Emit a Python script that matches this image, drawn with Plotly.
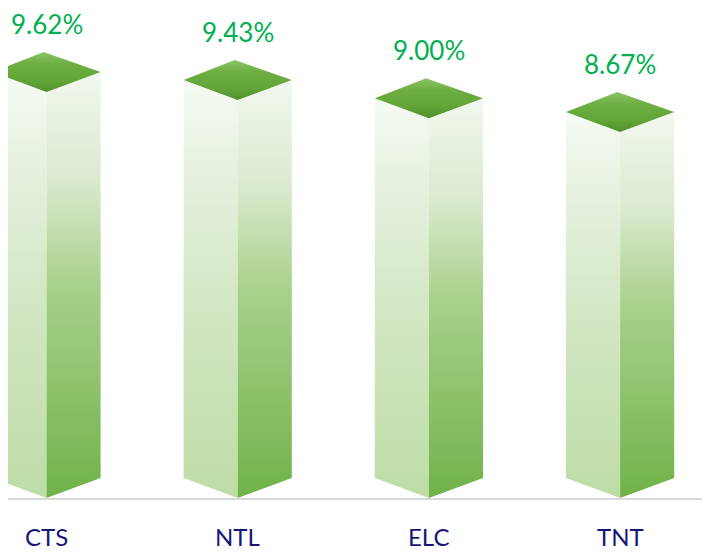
import plotly.graph_objects as go

# ---- data ----
categories = ["CTS", "NTL", "ELC", "TNT"]
values = [9.62, 9.43, 9.00, 8.67]
value_labels = [f"{v:.2f}%" for v in values]

# ---- style ----
HALF_W = 0.283      # half bar width (x units)
DEPTH = 0.474       # vertical offset of the top diamond (y units)
LABEL_GREEN = "#00b050"
CAT_BLUE = "#16167a"
FONT = "Lato, 'Open Sans', sans-serif"

left_scale = [[0, "#bddca6"], [0.5, "#d4e8c6"], [0.75, "#e4f0dc"], [1, "#f6faf3"]]
right_scale = [[0, "#70b249"], [0.5, "#a8d18b"], [0.75, "#dbeacf"], [1, "#f2f8ee"]]
top_scale = [[0, "#518f2d"], [0.3, "#63a538"], [0.7, "#6eae43"], [1, "#8cc468"]]

fig = go.Figure()

for i, (cat, v) in enumerate(zip(categories, values)):
    c = i
    # left (front-left) face
    fig.add_trace(go.Scatter(
        x=[c - HALF_W, c, c, c - HALF_W, c - HALF_W],
        y=[DEPTH, 0, v, v + DEPTH, DEPTH],
        fill="toself", mode="lines", line=dict(width=0),
        fillgradient=dict(type="vertical", colorscale=left_scale),
        hoverinfo="skip", showlegend=False))
    # right face
    fig.add_trace(go.Scatter(
        x=[c, c + HALF_W, c + HALF_W, c, c],
        y=[0, DEPTH, v + DEPTH, v, 0],
        fill="toself", mode="lines", line=dict(width=0),
        fillgradient=dict(type="vertical", colorscale=right_scale),
        hoverinfo="skip", showlegend=False))
    # top diamond
    fig.add_trace(go.Scatter(
        x=[c, c - HALF_W, c - 0.015, c + HALF_W, c],
        y=[v, v + DEPTH, v + 2 * DEPTH, v + DEPTH, v],
        fill="toself", mode="lines", line=dict(width=0),
        fillgradient=dict(type="vertical", colorscale=top_scale),
        hoverinfo="skip", showlegend=False))
    # value label
    fig.add_annotation(x=c, y=v + 2 * DEPTH, text=value_labels[i], showarrow=False,
                       yshift=28, yanchor="middle", xanchor="center",
                       font=dict(family=FONT, size=26, color=LABEL_GREEN))
    # category label
    fig.add_annotation(x=c, y=-0.924, text=cat, showarrow=False,
                       yanchor="middle", xanchor="center",
                       font=dict(family=FONT, size=24, color=CAT_BLUE))

# baseline
fig.add_shape(type="line", xref="paper", x0=0, x1=1, yref="y", y0=-0.025, y1=-0.025,
              line=dict(color="#d9d9d9", width=2), layer="below")

fig.update_layout(
    width=710, height=559,
    margin=dict(l=0, r=0, t=0, b=0),
    paper_bgcolor="white", plot_bgcolor="white",
    xaxis=dict(range=[-0.2014, 3.512], visible=False, fixedrange=True),
    yaxis=dict(range=[-1.635, 11.611], visible=False, fixedrange=True),
    showlegend=False,
)

fig.write_html("out.html")
